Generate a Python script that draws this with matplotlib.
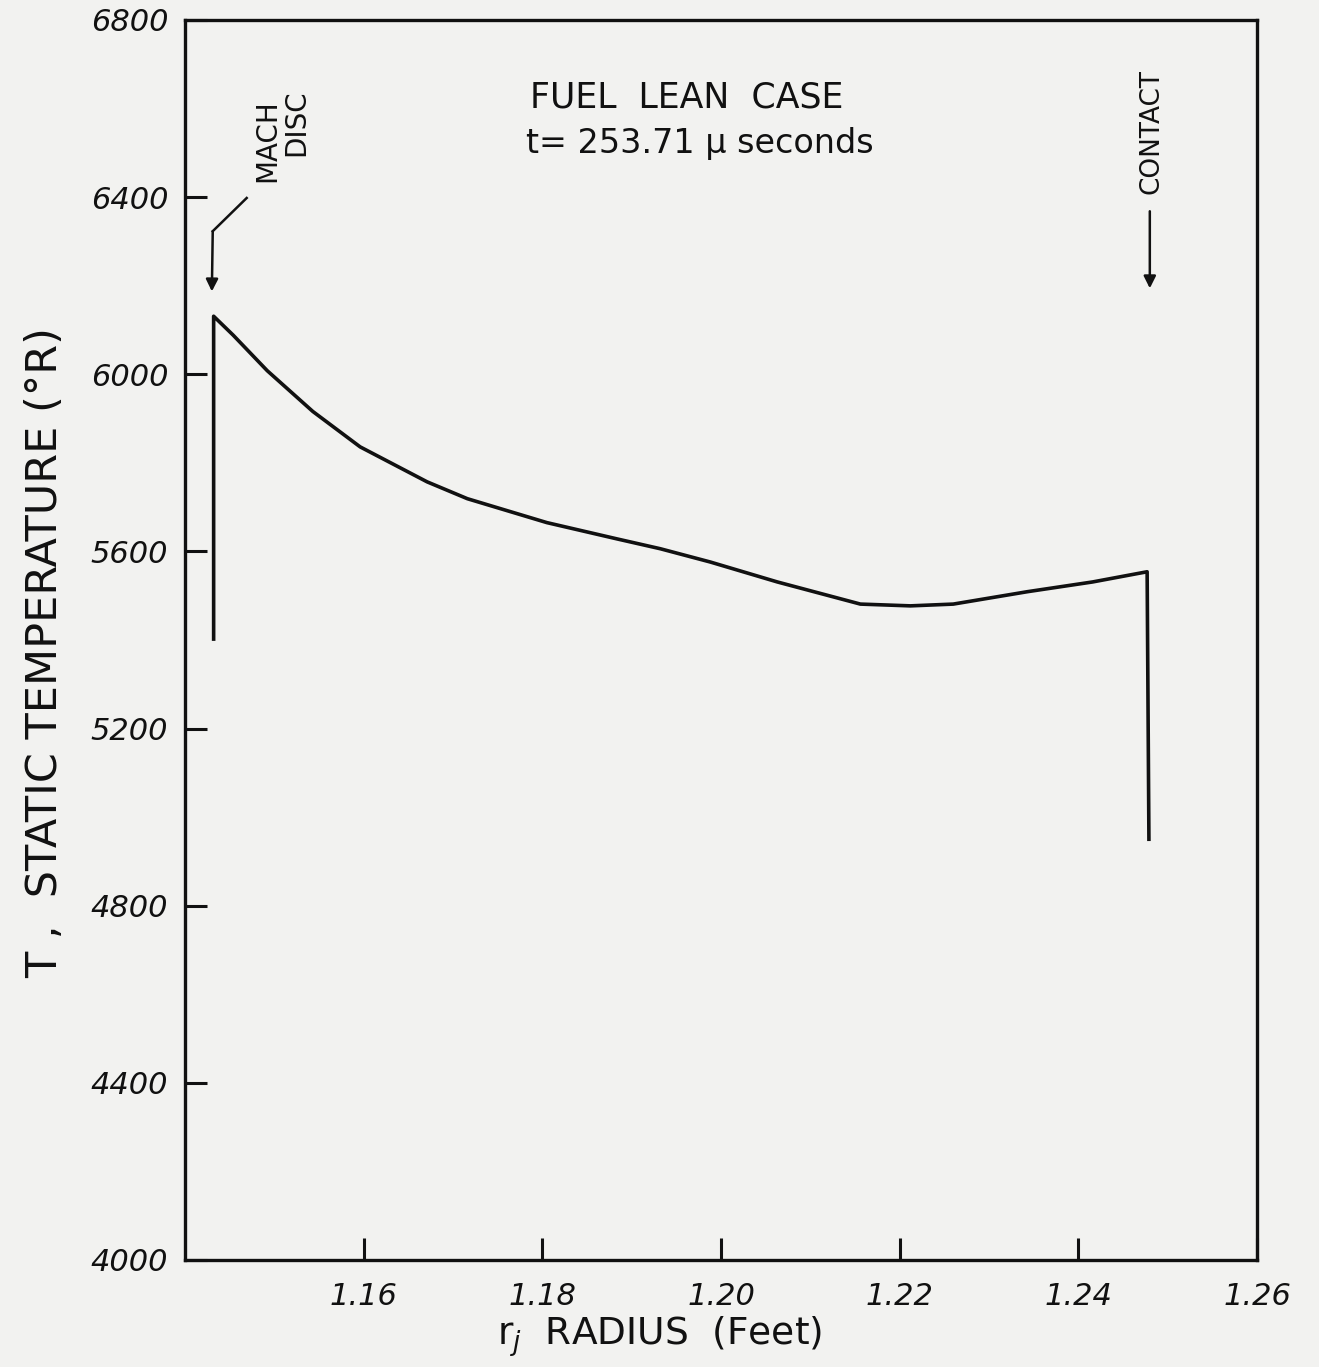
import matplotlib
matplotlib.use("Agg")
import matplotlib.pyplot as plt

# ---- data ----
radius_ft = [1.1432, 1.1432, 1.1454, 1.1492, 1.1543, 1.1596, 1.1671, 1.1716,
             1.1805, 1.1884, 1.1932, 1.1988, 1.2063, 1.2156, 1.2212, 1.2260,
             1.2343, 1.2416, 1.2477, 1.2479]
temperature_R = [5402, 6131, 6088, 6008, 5916, 5836, 5757, 5719,
                 5665, 5628, 5606, 5576, 5531, 5481, 5477, 5481,
                 5509, 5531, 5554, 4950]

x_ticks = [1.16, 1.18, 1.20, 1.22, 1.24, 1.26]
x_tick_labels = ["1.16", "1.18", "1.20", "1.22", "1.24", "1.26"]
y_ticks = [4000, 4400, 4800, 5200, 5600, 6000, 6400, 6800]
y_tick_labels = ["4000", "4400", "4800", "5200", "5600", "6000", "6400", "6800"]

title_lines = ["FUEL  LEAN  CASE", "t= 253.71 \u03bc seconds"]
x_label = "r$_j$  RADIUS  (Feet)"
y_label = "T ,  STATIC TEMPERATURE (\u00b0R)"

mach_label = ("MACH", "DISC")
contact_label = "CONTACT"
# annotation anchor positions (data units)
mach_arrow_path_r = [1.1469, 1.1431, 1.1430]
mach_arrow_path_T = [6398, 6323, 6187]
contact_arrow_r = 1.2480
contact_arrow_T = (6368, 6194)

ink = "#111111"
paper = "#f2f2f0"

plt.rcParams['font.family'] = ['DejaVu Sans']

fig = plt.figure(figsize=(13.19, 13.67), dpi=100, facecolor=paper)
ax = fig.add_axes([0.1403, 0.0783, 0.8127, 0.9071])
ax.set_facecolor(paper)

ax.plot(radius_ft, temperature_R, color=ink, lw=2.6, solid_joinstyle='round')

ax.set_xlim(1.14, 1.26)
ax.set_ylim(4000, 6800)
ax.set_xticks(x_ticks)
ax.set_xticklabels(x_tick_labels, fontsize=22, style='italic', color=ink)
ax.set_yticks(y_ticks)
ax.set_yticklabels(y_tick_labels, fontsize=22, style='italic', color=ink)
ax.tick_params(axis='x', direction='in', length=16, width=2.2, pad=16, colors=ink)
ax.tick_params(axis='y', direction='in', length=16, width=2.2, pad=12, colors=ink)
for s in ax.spines.values():
    s.set_linewidth(2.4)
    s.set_color(ink)

# axis labels placed explicitly
ax.text(0.443, -0.062, x_label, transform=ax.transAxes, fontsize=27, color=ink,
        ha='center', va='center')
ax.text(-0.1306, 0.49, y_label, transform=ax.transAxes, fontsize=31, color=ink,
        rotation=90, ha='center', va='center')

# title text inside the plot
ax.text(1.1786, 6624, title_lines[0], fontsize=25, color=ink, ha='left', va='center')
ax.text(1.1782, 6522, title_lines[1], fontsize=24, color=ink, ha='left', va='center')

# Mach disc annotation
ax.text(1.1492, 6527, mach_label[0], fontsize=20, color=ink, rotation=90,
        ha='center', va='center')
ax.text(1.1525, 6567, mach_label[1], fontsize=20, color=ink, rotation=90,
        ha='center', va='center')
ax.plot(mach_arrow_path_r[:2], mach_arrow_path_T[:2], color=ink, lw=1.8)
ax.annotate("", xy=(mach_arrow_path_r[2], mach_arrow_path_T[2]),
            xytext=(mach_arrow_path_r[1], mach_arrow_path_T[1]),
            arrowprops=dict(arrowstyle='-|>', color=ink, lw=1.8,
                            mutation_scale=18, shrinkA=0, shrinkB=0))

# Contact annotation
ax.text(contact_arrow_r + 0.0002, 6549, contact_label, fontsize=19, color=ink,
        rotation=90, ha='center', va='center')
ax.annotate("", xy=(contact_arrow_r, contact_arrow_T[1]),
            xytext=(contact_arrow_r, contact_arrow_T[0]),
            arrowprops=dict(arrowstyle='-|>', color=ink, lw=1.8,
                            mutation_scale=18, shrinkA=0, shrinkB=0))

fig.savefig("out.png", dpi=100, facecolor=paper)
